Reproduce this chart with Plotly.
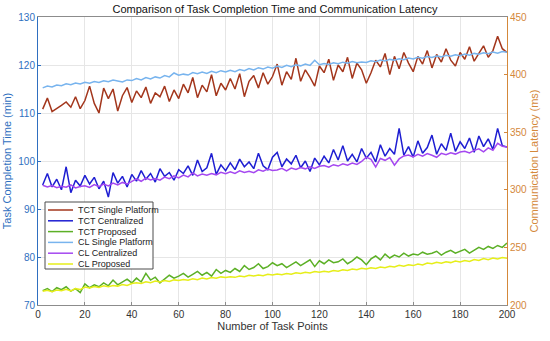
import plotly.graph_objects as go

x_points = list(range(2, 201, 2))

tct_single = [
    110.8, 113.1, 110.3, 110.9, 111.6, 112.3, 111.2, 113.4, 110.9, 112.6,
    115.6, 112.0, 110.0, 115.2, 113.0, 115.0, 110.4, 113.6, 115.3, 112.2,
    114.6, 113.2, 115.4, 112.0, 114.2, 113.4, 115.6, 112.4, 114.8, 113.0,
    116.0, 114.2, 117.4, 113.2, 115.8, 114.4, 118.0, 113.6, 116.2, 114.8,
    117.2, 115.0, 118.2, 113.4, 116.6, 117.8, 115.2, 118.4, 116.0, 117.6,
    120.2, 115.8, 118.6, 117.0, 121.4, 116.6, 119.0, 117.4, 115.6, 119.8,
    118.4, 121.2, 116.8, 120.0, 118.6, 121.6, 117.2, 120.4, 119.0, 116.2,
    118.4, 121.0, 119.6, 122.4, 118.0, 121.8, 119.2, 122.6, 120.4, 118.6,
    121.8, 120.2, 123.0, 119.4, 122.2, 120.6, 123.4, 121.0, 119.8, 122.6,
    121.2, 123.8, 120.8, 122.4, 124.0, 121.6, 123.0, 126.0, 123.4, 122.6,
]

tct_central = [
    95.0, 97.4, 94.6, 96.2, 94.0, 98.8, 93.4, 96.0, 94.8, 97.0,
    95.2, 96.6, 94.2, 95.8, 92.5, 97.6, 95.4, 96.8, 94.6, 97.2,
    95.8, 98.0, 96.2, 97.4, 95.6, 98.4, 96.8, 97.6, 96.0, 98.2,
    97.4, 99.0, 97.0, 100.2, 97.8, 98.6, 101.6, 97.2, 99.2, 98.0,
    99.6, 98.2, 100.4, 98.8, 99.8, 98.4, 101.6, 99.0, 98.2, 100.8,
    101.8, 98.8, 100.4, 99.4, 101.2, 98.6, 100.0, 97.8, 100.6, 99.2,
    101.0, 99.6, 102.4, 100.2, 103.2, 100.0, 101.4, 99.8, 102.6, 100.6,
    101.8, 99.8, 103.4, 101.0, 102.6, 101.4, 106.8, 101.2, 103.0, 100.8,
    104.2, 101.6, 102.8, 105.4, 101.4, 103.6, 102.2, 105.8, 102.0, 104.0,
    102.6, 104.8, 101.8, 105.2, 103.0, 104.6, 102.4, 106.8, 103.2, 102.9,
]

tct_proposed = [
    73.0, 73.4, 72.8, 73.6, 73.2, 73.8, 72.9, 73.4, 72.6, 74.4,
    73.6, 74.2, 73.8, 74.6, 74.0, 75.2, 74.2, 74.8, 75.4, 74.6,
    75.6, 74.8, 76.6, 75.2, 75.8, 74.6, 75.4, 76.2, 75.6, 76.0,
    76.6, 75.8, 76.4, 77.0, 76.2, 76.8, 76.0, 77.4, 76.6, 77.2,
    76.8, 77.6, 77.0, 78.2, 77.4, 77.8, 78.6, 77.6, 78.0, 78.8,
    78.2, 78.6, 77.8, 78.4, 79.0, 78.2, 78.8, 79.4, 78.0, 79.2,
    78.6, 79.4, 78.8, 79.0, 79.6, 78.6, 79.2, 80.0, 79.4, 78.4,
    79.6, 80.2, 79.4, 80.6, 79.8, 80.4, 80.0, 80.8, 80.2, 80.6,
    80.4, 81.0, 80.6, 80.8, 81.2, 80.4, 81.0, 81.4, 80.8, 81.2,
    81.6, 80.8, 81.4, 82.0, 81.6, 82.2, 81.8, 82.4, 82.0, 82.9,
]

cl_single = [
    388.5, 390.0, 389.2, 391.0, 390.4, 392.0, 391.2, 392.6, 391.8, 393.4,
    392.6, 394.0, 393.2, 394.6, 393.8, 395.2, 394.4, 393.6, 395.4, 394.8,
    396.6, 395.4, 397.4, 396.2, 398.0, 397.0, 399.2, 398.0, 401.4, 399.4,
    400.4, 399.6, 401.8, 400.8, 402.2, 401.0, 402.8, 401.6, 403.4, 402.2,
    403.8, 402.6, 404.4, 403.4, 405.2, 404.0, 406.0, 404.8, 406.6, 405.6,
    407.4, 406.2, 408.0, 406.8, 408.6, 407.6, 409.2, 408.0, 412.4, 408.6,
    409.6, 408.8, 410.2, 409.4, 410.8, 409.8, 411.4, 410.4, 411.0, 410.6,
    412.0, 411.2, 412.6, 411.8, 413.2, 412.4, 413.8, 413.0, 414.4, 413.6,
    415.0, 414.2, 415.6, 414.8, 416.2, 415.4, 416.8, 416.0, 417.2, 416.4,
    417.8, 416.8, 418.4, 417.6, 419.0, 418.2, 419.6, 418.6, 420.0, 419.4,
]

cl_central = [
    304.0, 302.4, 303.6, 301.8, 303.0, 302.2, 304.2, 301.6, 302.8, 303.4,
    302.0, 304.6, 302.8, 305.0, 303.4, 305.8, 304.2, 306.4, 305.0, 307.2,
    309.6, 307.4, 310.2, 308.6, 309.8, 308.4, 311.0, 309.6, 312.2, 310.4,
    312.8, 311.2, 314.6, 312.0, 313.6, 312.6, 314.2, 313.0, 315.2, 314.0,
    315.6, 314.2, 316.4, 315.0, 316.0, 314.8, 317.4, 316.2, 318.0, 316.8,
    317.2, 318.6, 316.4, 318.8, 317.6, 319.4, 318.2, 320.0, 318.6, 320.4,
    321.0, 319.6, 321.8, 320.6, 322.6, 321.4, 323.2, 322.0, 324.6, 328.4,
    326.4, 319.8, 327.2, 325.6, 328.0, 321.4, 326.8, 329.4, 330.2, 328.6,
    330.8, 329.2, 331.4, 330.0, 328.2, 331.6, 330.4, 332.2, 331.0, 332.8,
    333.4, 332.0, 334.2, 335.6, 333.0, 336.4, 334.4, 340.4, 337.8, 337.2,
]

cl_proposed = [
    212.0, 212.8, 211.6, 213.0, 212.4, 213.6, 212.2, 214.2, 213.4, 215.6,
    214.8, 216.0, 215.2, 216.6, 215.8, 217.0, 216.4, 217.8, 217.0, 218.6,
    219.4, 218.6, 220.2, 219.4, 220.8, 220.0, 221.2, 220.4, 221.8, 221.2,
    222.2, 221.6, 222.8, 222.0, 223.4, 222.6, 223.8, 223.2, 224.4, 223.8,
    224.6, 224.0, 225.2, 224.6, 225.8, 225.2, 226.0, 225.4, 226.6, 226.0,
    226.8, 226.2, 227.4, 226.8, 228.0, 227.4, 228.4, 227.8, 229.0, 228.4,
    229.2, 228.6, 230.0, 229.4, 230.6, 230.0, 231.2, 230.6, 231.8, 231.2,
    232.4, 231.8, 233.0, 232.4, 233.6, 233.0, 234.4, 233.6, 235.0, 234.2,
    235.6, 234.8, 236.4, 235.8, 237.0, 236.2, 237.6, 236.8, 238.2, 237.4,
    238.6, 237.8, 239.4, 238.6, 240.4, 239.4, 240.8, 240.0, 241.2, 240.6,
]

series_names = ["TCT Single Platform", "TCT Centralized", "TCT Proposed",
                "CL Single Platform", "CL Centralized", "CL Proposed"]
series_values = [tct_single, tct_central, tct_proposed, cl_single, cl_central, cl_proposed]
series_axes = ["y", "y", "y", "y2", "y2", "y2"]
series_colors = ["#A3361C", "#1E1ED2", "#5CB026", "#78B4EE", "#A548F0", "#E6EE1A"]

LEFT_C = "#2F6FC0"
RIGHT_C = "#D4883A"
FONT = "Arial, Liberation Sans, sans-serif"

W, H = 550, 341
ML, MR, MT, MB = 38, 43, 17, 36
PW, PH = W - ML - MR, H - MT - MB


def px_to_paper(px, py):
    return (px - ML) / PW, (H - MB - py) / PH


fig = go.Figure()
for name, vals, ax, col in zip(series_names, series_values, series_axes, series_colors):
    fig.add_trace(go.Scatter(x=x_points, y=vals, name=name, yaxis=ax, mode="lines",
                             line=dict(color=col, width=1.5), showlegend=False))

# custom compact legend (MATLAB style)
shapes = []
annotations = []
bx0, by0 = px_to_paper(45, 269)
bx1, by1 = px_to_paper(153, 202)
shapes.append(dict(type="rect", xref="paper", yref="paper", x0=bx0, y0=by0, x1=bx1, y1=by1,
                   fillcolor="white", line=dict(color="#4D4D4D", width=1), layer="above"))
for i, (name, col) in enumerate(zip(series_names, series_colors)):
    cy = 210 + i * 10.8
    lx0, ly = px_to_paper(48, cy)
    lx1, _ = px_to_paper(73, cy)
    tx, _ = px_to_paper(76, cy)
    shapes.append(dict(type="line", xref="paper", yref="paper", x0=lx0, x1=lx1, y0=ly, y1=ly,
                       line=dict(color=col, width=1.5), layer="above"))
    annotations.append(dict(text=name, xref="paper", yref="paper", x=tx, y=ly,
                            xanchor="left", yanchor="middle", showarrow=False,
                            font=dict(size=9, color="#222222", family=FONT)))

fig.update_layout(
    width=W, height=H,
    margin=dict(l=ML, r=MR, t=MT, b=MB, autoexpand=False),
    paper_bgcolor="white", plot_bgcolor="white",
    font=dict(family=FONT, size=11, color="#262626"),
    title=dict(text="Comparison of Task Completion Time and Communication Latency",
               x=0.5, xanchor="center", y=1 - 9 / H, yanchor="middle",
               font=dict(size=11, color="#111111")),
    xaxis=dict(range=[0, 200], dtick=20, showgrid=True, gridcolor="#E6E6E6",
               showline=True, linecolor="#8C8C8C", mirror=True, ticks="inside",
               ticklen=3, tickcolor="#8C8C8C", zeroline=False, automargin=False,
               tickfont=dict(size=10, color="#333333"),
               title=dict(text="Number of Task Points", standoff=3,
                          font=dict(size=11, color="#333333"))),
    yaxis=dict(range=[70, 130], dtick=10, showgrid=True, gridcolor="#E6E6E6",
               showline=True, linecolor=LEFT_C, ticks="inside", ticklen=3,
               tickcolor=LEFT_C, zeroline=False, automargin=False,
               tickfont=dict(size=10, color=LEFT_C),
               title=dict(text="Task Completion Time (min)", standoff=4,
                          font=dict(size=11, color=LEFT_C))),
    yaxis2=dict(range=[200, 450], dtick=50, overlaying="y", side="right",
                showgrid=False, showline=True, linecolor=RIGHT_C, ticks="inside",
                ticklen=3, tickcolor=RIGHT_C, zeroline=False, automargin=False,
                tickfont=dict(size=10, color=RIGHT_C),
                title=dict(text="Communication Latency (ms)", standoff=4,
                           font=dict(size=11, color=RIGHT_C))),
    shapes=shapes,
    annotations=annotations,
    showlegend=False,
)

fig.write_html("out.html", config={"displayModeBar": False},
               post_script="document.body.style.margin='0';")
